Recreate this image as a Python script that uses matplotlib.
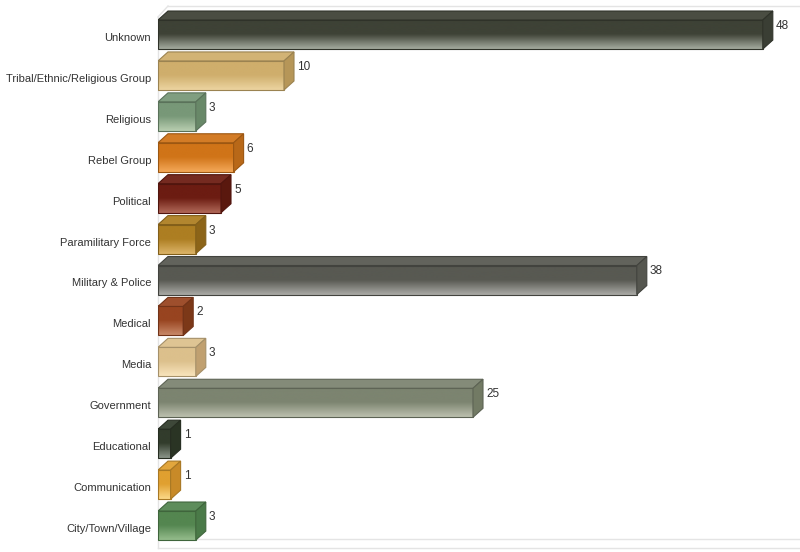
import numpy as np
import matplotlib.pyplot as plt
from matplotlib.colors import LinearSegmentedColormap, to_rgb
from matplotlib.patches import Polygon

# data, listed top to bottom as shown
categories = ['Unknown', 'Tribal/Ethnic/Religious Group', 'Religious', 'Rebel Group',
              'Political', 'Paramilitary Force', 'Military & Police', 'Medical',
              'Media', 'Government', 'Educational', 'Communication', 'City/Town/Village']
values = [48, 10, 3, 6, 5, 3, 38, 2, 3, 25, 1, 1, 3]

# (top of front face, bottom of front face, side face)
bar_colors = [
    ('#3e4236', '#a4aa9e', '#3a3e34'),
    ('#cfae6c', '#ecd4a0', '#b69658'),
    ('#789878', '#b8ceb0', '#688868'),
    ('#d07418', '#f4a858', '#b86818'),
    ('#6c1c12', '#b06858', '#5a180e'),
    ('#ad7e22', '#dcb468', '#8c6418'),
    ('#585952', '#aaaaa6', '#55564f'),
    ('#984420', '#c88868', '#7c3818'),
    ('#dcc08c', '#f8e4bc', '#c0a070'),
    ('#7c8470', '#bcc0ae', '#727a64'),
    ('#323c2c', '#8a9488', '#2a3424'),
    ('#e0a030', '#fcd888', '#c88a28'),
    ('#548650', '#94bc8c', '#4a7a48'),
]

plt.rcParams['font.family'] = ['Liberation Sans', 'DejaVu Sans']

fig = plt.figure(figsize=(8, 5.52), dpi=100)
ax = fig.add_axes([158 / 800, 0, 642 / 800, 1])

n = len(categories)
px_x = 12.6      # pixels per value unit
px_y = 40.917    # pixels per row
dx = 10 / px_x   # 3d depth offset
dy = 9 / px_y
h = 0.71


def shade(c, f):
    r = np.array(to_rgb(c))
    return tuple(r + (1 - r) * f) if f > 0 else tuple(r * (1 + f))


for i, (cat, v) in enumerate(zip(categories, values)):
    y = n - 1 - i
    top, bot, side = bar_colors[i]
    y0 = y + 0.06 - h / 2
    y1 = y + 0.06 + h / 2
    cmap = LinearSegmentedColormap.from_list('g', [top, top, bot])
    grad = np.linspace(0, 1, 64).reshape(-1, 1)
    ax.imshow(grad, cmap=cmap, extent=[0, v, y0, y1], origin='upper',
              aspect='auto', interpolation='bicubic', zorder=2)
    edge = shade(top, -0.25)
    ax.add_patch(Polygon([(0, y0), (v, y0), (v, y1), (0, y1)], closed=True,
                         fill=False, edgecolor=edge, lw=0.8, zorder=3))
    # top face
    ax.add_patch(Polygon([(0, y1), (dx, y1 + dy), (v + dx, y1 + dy), (v, y1)],
                         closed=True, facecolor=shade(top, 0.06), edgecolor=edge,
                         lw=0.8, zorder=3))
    # side face
    ax.add_patch(Polygon([(v, y0), (v + dx, y0 + dy), (v + dx, y1 + dy), (v, y1)],
                         closed=True, facecolor=side, edgecolor=edge,
                         lw=0.8, zorder=3))
    ax.text(v + dx + 0.25, y + 0.27, str(v), fontsize=8.5, color='#333333',
            ha='left', va='center', zorder=4)

# chart walls / floor
wall = '#e4e4e4'
y_top = 12 + 31 / px_y
y_diag = 12 + 20 / px_y
y_floor1 = -11 / px_y
y_floor2 = -20 / px_y
ax.plot([0, 0], [y_floor2, y_diag], color=wall, lw=1, zorder=1, clip_on=False)
ax.plot([0, dx], [y_diag, y_top], color=wall, lw=1, zorder=1, clip_on=False)
ax.plot([dx, 51], [y_top, y_top], color=wall, lw=1, zorder=1, clip_on=False)
ax.plot([0, 51], [y_floor1, y_floor1], color=wall, lw=1, zorder=1, clip_on=False)
ax.plot([0, 51], [y_floor2, y_floor2], color=wall, lw=1, zorder=1, clip_on=False)

ax.set_xlim(0, 642 / px_x)
ax.set_ylim(-24 / px_y, 12 + 37 / px_y)
ax.set_yticks([n - 1 - i for i in range(n)])
ax.set_yticklabels(categories, fontsize=8, color='#333333')
ax.tick_params(axis='y', length=0, pad=5)
ax.set_xticks([])
for s in ax.spines.values():
    s.set_visible(False)

fig.savefig('out.png', dpi=100)
